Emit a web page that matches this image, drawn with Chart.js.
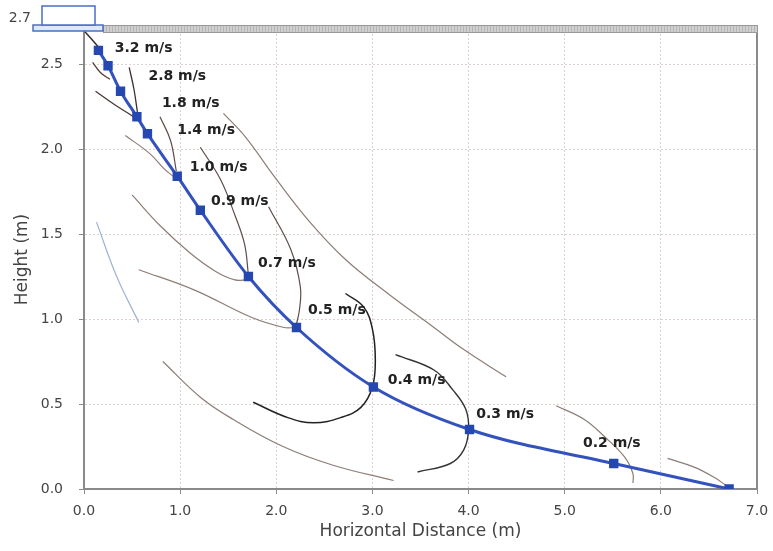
<!DOCTYPE html>
<html>
<head>
<meta charset="utf-8">
<script src="https://cdn.jsdelivr.net/npm/chart.js@4.4.1/dist/chart.umd.min.js"></script>
<style>
  html, body { margin: 0; padding: 0; background: #fff; }
  canvas { display: block; }
</style>
</head>
<body>
<canvas id="chart" width="773" height="551"></canvas>
<script>
// jet trajectory (m)
const jetX = [0.15, 0.25, 0.38, 0.55, 0.66, 0.97, 1.21, 1.71, 2.21, 3.01, 4.01, 5.51, 6.71];
const jetY = [2.58, 2.49, 2.34, 2.19, 2.09, 1.84, 1.64, 1.25, 0.95, 0.60, 0.35, 0.15, 0.00];

// outlet segment from diffuser to first point
const outlet = [[0.01, 2.69], [0.15, 2.60]];

// isovel / envelope lines, [x, y] in metres
const iso32 = [[0.09, 2.51], [0.17, 2.45], [0.27, 2.41]];
const iso28 = [[0.47, 2.48], [0.52, 2.35], [0.56, 2.20]];
const env28 = [[0.12, 2.34], [0.32, 2.26], [0.46, 2.21], [0.54, 2.18]];
const iso18 = [[0.79, 2.19], [0.90, 2.05], [0.96, 1.87]];
const env18 = [[0.43, 2.08], [0.69, 1.97], [0.84, 1.88], [0.95, 1.83]];
const iso10 = [[1.21, 2.01], [1.42, 1.82], [1.57, 1.61], [1.67, 1.44], [1.71, 1.26]];
const iso14 = [[1.45, 2.21], [1.68, 2.07], [1.99, 1.83], [2.35, 1.57], [2.72, 1.35],
               [3.16, 1.15], [3.64, 0.95], [3.95, 0.82], [4.39, 0.66]];
const env07 = [[0.50, 1.73], [0.79, 1.55], [1.10, 1.39], [1.37, 1.28], [1.57, 1.23], [1.70, 1.23]];
const iso09 = [[1.92, 1.66], [2.15, 1.41], [2.25, 1.19], [2.24, 1.05], [2.20, 0.95]];
const env05 = [[0.57, 1.29], [1.15, 1.17], [1.74, 1.01], [2.08, 0.95], [2.20, 0.95]];
const floorEdge = [[0.13, 1.57], [0.34, 1.25], [0.57, 0.98]];
const iso04 = [[2.72, 1.15], [2.91, 1.07], [3.00, 0.94], [3.03, 0.76], [3.00, 0.60],
               [2.88, 0.48], [2.67, 0.42], [2.39, 0.39], [2.12, 0.42], [1.76, 0.51]];
const envLow = [[0.82, 0.75], [1.21, 0.54], [1.55, 0.41], [2.07, 0.25], [2.59, 0.14], [3.22, 0.05]];
const iso03 = [[3.24, 0.79], [3.64, 0.70], [3.84, 0.58], [3.97, 0.47], [4.00, 0.35],
               [3.95, 0.23], [3.81, 0.15], [3.47, 0.10]];
const iso02 = [[4.91, 0.49], [5.20, 0.41], [5.41, 0.31], [5.62, 0.19], [5.71, 0.09], [5.71, 0.035]];
const isoEnd = [[6.07, 0.18], [6.34, 0.13], [6.55, 0.07], [6.68, 0.02]];

// velocity labels (text, anchor in metres)
const labelText = ['3.2 m/s', '2.8 m/s', '1.8 m/s', '1.4 m/s', '1.0 m/s', '0.9 m/s',
                   '0.7 m/s', '0.5 m/s', '0.4 m/s', '0.3 m/s', '0.2 m/s'];
const labelX = [0.32, 0.67, 0.81, 0.97, 1.10, 1.32, 1.81, 2.33, 3.16, 4.08, 5.19];
const labelY = [2.59, 2.43, 2.27, 2.11, 1.89, 1.69, 1.33, 1.05, 0.64, 0.44, 0.27];

const yTicks = [0, 0.5, 1.0, 1.5, 2.0, 2.5];
const ceilingY = 2.7;

const pts = a => a.map(p => ({ x: p[0], y: p[1] }));

function line(data, color, width) {
  return {
    data: pts(data),
    showLine: true,
    borderColor: color,
    borderWidth: width || 1.2,
    pointRadius: 0,
    tension: 0.4,
    fill: false,
  };
}

const BROWN = '#8d7d77';
const DARK = '#3a302e';

const decor = {
  id: 'decor',
  beforeDraw(chart) {
    const { ctx } = chart;
    ctx.save();
    ctx.fillStyle = '#fff';
    ctx.fillRect(0, 0, chart.width, chart.height);
    ctx.restore();
  },
  afterDatasetsDraw(chart) {
    const { ctx, chartArea } = chart;
    const xs = chart.scales.x, ys = chart.scales.y;
    ctx.save();
    // velocity labels
    ctx.font = 'bold 14px "DejaVu Sans"';
    ctx.fillStyle = '#222';
    ctx.textAlign = 'left';
    ctx.textBaseline = 'middle';
    labelText.forEach((t, i) => {
      ctx.fillText(t, xs.getPixelForValue(labelX[i]), ys.getPixelForValue(labelY[i]));
    });

    // right border
    ctx.strokeStyle = '#8a8a8a';
    ctx.lineWidth = 2;
    ctx.beginPath();
    ctx.moveTo(chartArea.right, chartArea.top);
    ctx.lineTo(chartArea.right, chartArea.bottom);
    ctx.stroke();

    // ceiling band
    const cy = ys.getPixelForValue(ceilingY);
    ctx.fillStyle = '#cfcfcf';
    ctx.fillRect(103, cy - 4, chartArea.right + 1 - 103, 7);
    ctx.strokeStyle = '#999';
    ctx.lineWidth = 1;
    ctx.strokeRect(103.5, cy - 4.5, chartArea.right - 103, 7);
    ctx.strokeStyle = 'rgba(150,150,150,0.45)';
    for (let x = 106; x < chartArea.right; x += 3) {
      ctx.beginPath();
      ctx.moveTo(x + 0.5, cy - 4);
      ctx.lineTo(x + 0.5, cy + 2);
      ctx.stroke();
    }

    // diffuser
    ctx.fillStyle = '#dfe8f6';
    ctx.strokeStyle = '#4a6fc0';
    ctx.lineWidth = 1.5;
    ctx.fillRect(33, cy - 5, 70, 6);
    ctx.strokeRect(33, cy - 5, 70, 6);
    ctx.fillStyle = '#fff';
    ctx.fillRect(42, 6, 53, cy - 11);
    ctx.strokeRect(42, 6, 53, cy - 11);

    // ceiling height label
    ctx.font = '14px "DejaVu Sans"';
    ctx.fillStyle = '#444';
    ctx.textAlign = 'right';
    ctx.fillText('2.7', 31, 18);
    ctx.restore();
  },
};

const ctx = document.getElementById('chart');
new Chart(ctx, {
  type: 'scatter',
  data: {
    datasets: [
      {
        data: jetX.map((x, i) => ({ x, y: jetY[i] })),
        showLine: true,
        borderColor: '#3352bd',
        borderWidth: 3,
        backgroundColor: '#2548b0',
        pointBackgroundColor: '#2548b0',
        pointBorderColor: '#2548b0',
        pointStyle: 'rect',
        pointRadius: 4.5,
        cubicInterpolationMode: 'monotone',
      },
      line(outlet, DARK, 1.5),
      line(iso32, '#5a3a36', 1.3),
      line(iso28, DARK, 1.3),
      line(env28, '#4a3835', 1.3),
      line(iso18, '#5d4d48', 1.2),
      line(env18, BROWN),
      line(iso10, '#5d4d48', 1.2),
      line(iso14, BROWN),
      line(env07, BROWN),
      line(iso09, '#5d4d48', 1.2),
      line(env05, BROWN),
      line(floorEdge, '#9db3d6', 1.2),
      line(iso04, '#222', 1.5),
      line(envLow, BROWN),
      line(iso03, '#333', 1.4),
      line(iso02, BROWN),
      line(isoEnd, BROWN),
    ],
  },
  options: {
    responsive: false,
    animation: false,
    devicePixelRatio: 1,
    layout: { padding: { top: 30, right: 16, left: 0, bottom: 0 } },
    plugins: { legend: { display: false }, tooltip: { enabled: false } },
    scales: {
      x: {
        type: 'linear',
        min: 0,
        max: 7,
        afterFit: s => { s.height = 62; s.paddingLeft = 0; s.paddingRight = 0; },
        ticks: { stepSize: 1, color: '#444', font: { family: 'DejaVu Sans', size: 14 }, padding: 9,
                 callback: v => v.toFixed(1) },
        grid: { color: '#ddd2cd', tickLength: 5, tickColor: '#8a8a8a' },
        border: { color: '#8a8a8a', width: 2, dash: [2, 2] },
        title: { display: true, text: 'Horizontal Distance (m)', color: '#444',
                 font: { family: 'DejaVu Sans', size: 17 }, padding: { bottom: 9 } },
      },
      y: {
        type: 'linear',
        min: 0,
        max: ceilingY,
        afterFit: s => { s.width = 84; s.paddingTop = 0; s.paddingBottom = 0; },
        afterBuildTicks: s => { s.ticks = yTicks.map(v => ({ value: v })); },
        ticks: { color: '#444', font: { family: 'DejaVu Sans', size: 14 }, padding: 16,
                 callback: v => v.toFixed(1) },
        grid: { color: '#ddd2cd', tickLength: 5, tickColor: '#8a8a8a' },
        border: { color: '#8a8a8a', width: 2, dash: [2, 2] },
        title: { display: true, text: 'Height (m)', color: '#444',
                 font: { family: 'DejaVu Sans', size: 17 }, padding: { top: 12 } },
      },
    },
  },
  plugins: [decor],
});
</script>
</body>
</html>
